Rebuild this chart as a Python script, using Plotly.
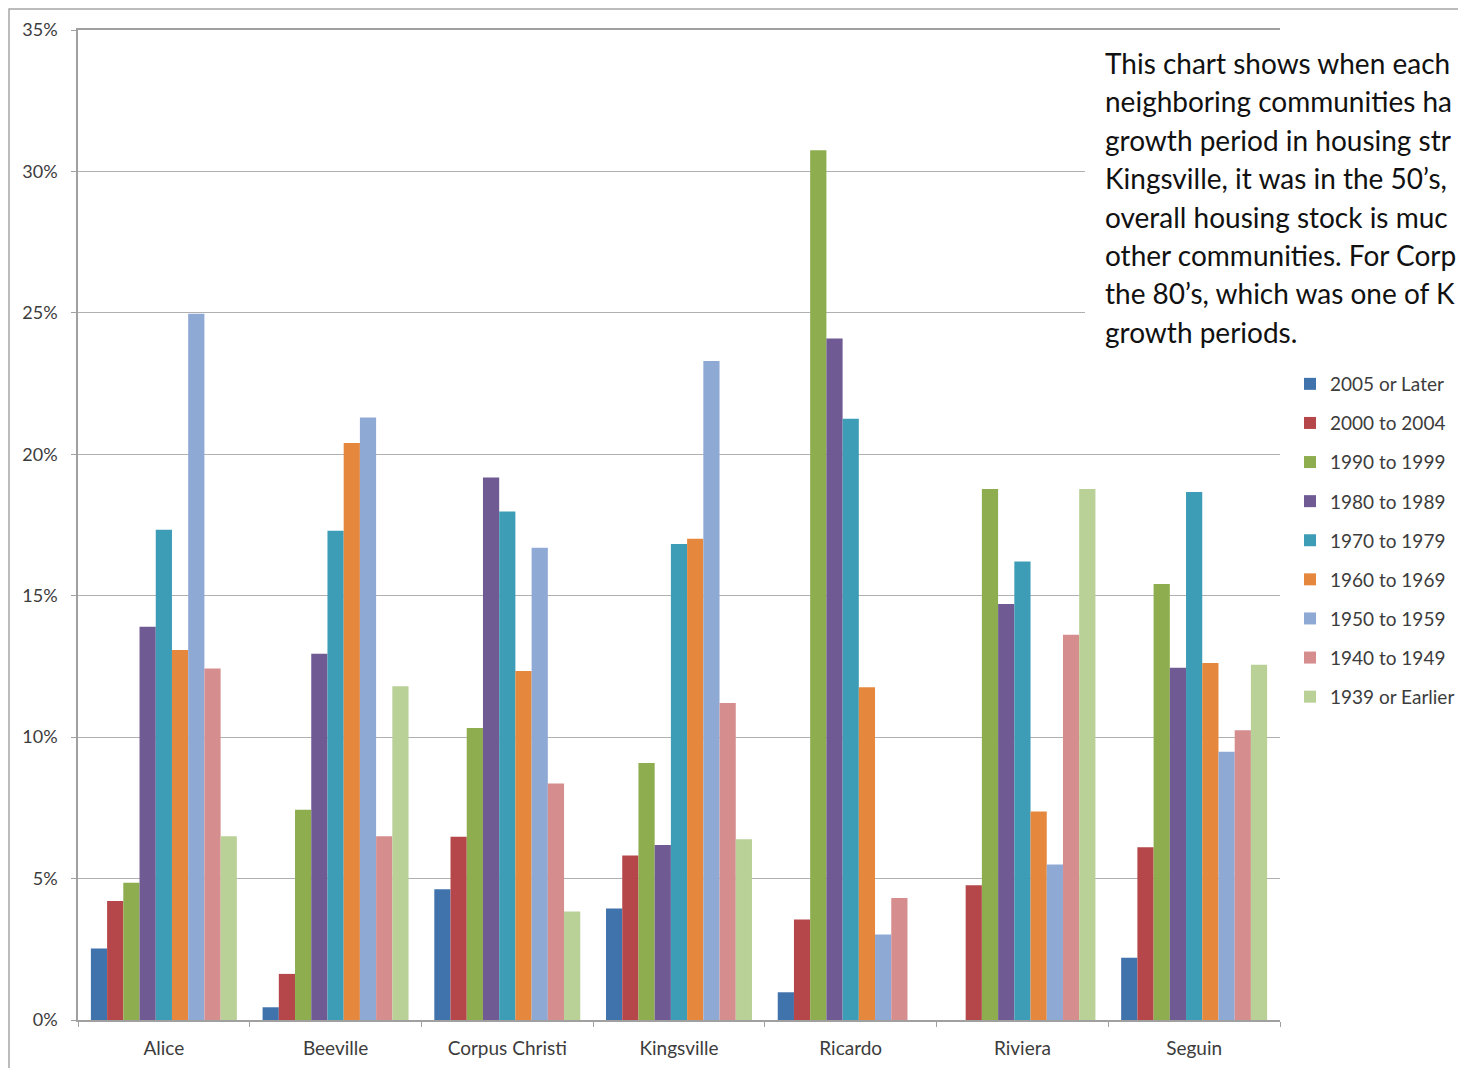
import plotly.graph_objects as go

categories = ["Alice", "Beeville", "Corpus Christi", "Kingsville", "Ricardo", "Riviera", "Seguin"]
series_names = ["2005 or Later", "2000 to 2004", "1990 to 1999", "1980 to 1989", "1970 to 1979",
                "1960 to 1969", "1950 to 1959", "1940 to 1949", "1939 or Earlier"]

v2005_later = [2.53, 0.45, 4.62, 3.94, 0.98, 0.0, 2.2]
v2000_2004 = [4.21, 1.63, 6.48, 5.82, 3.55, 4.76, 6.11]
v1990_1999 = [4.85, 7.43, 10.32, 9.09, 30.75, 18.77, 15.41]
v1980_1989 = [13.9, 12.95, 19.18, 6.19, 24.09, 14.71, 12.45]
v1970_1979 = [17.33, 17.3, 17.98, 16.83, 21.26, 16.21, 18.67]
v1960_1969 = [13.08, 20.4, 12.34, 17.01, 11.76, 7.37, 12.62]
v1950_1959 = [24.97, 21.3, 16.7, 23.3, 3.02, 5.5, 9.48]
v1940_1949 = [12.43, 6.5, 8.36, 11.21, 4.31, 13.62, 10.24]
v1939_earlier = [6.5, 11.8, 3.84, 6.39, 0.0, 18.77, 12.56]

series_values = [v2005_later, v2000_2004, v1990_1999, v1980_1989, v1970_1979,
                 v1960_1969, v1950_1959, v1940_1949, v1939_earlier]

colors = ["#4072AC", "#B5474A", "#8DAD4E", "#6F5A93", "#3E9DB6",
          "#E5873D", "#8FA9D5", "#D68D8E", "#B9D097"]

note_lines = [
    "This chart shows when each",
    "neighboring communities ha",
    "growth period in housing str",
    "Kingsville, it was in the 50\u2019s,",
    "overall housing stock is muc",
    "other communities. For Corp",
    "the 80\u2019s, which was one of K",
    "growth periods.",
]

OFF = 8  # page body margin of the html page
W, H = 1466 - OFF, 1068 - OFF
# plot area bounds in screen pixels
SL, SR, ST, SB = 78, 1280, 30, 1020
L, R, T, B = SL - OFF, SR - OFF, ST - OFF, SB - OFF

def px_x(sx):
    return (sx - SL) / (SR - SL)

def px_y(sy):
    return (SB - sy) / (SB - ST)

FONT = "Lato, Carlito, Calibri, sans-serif"
TXT = "#3C3C3C"

fig = go.Figure()
for name, vals, col in zip(series_names, series_values, colors):
    fig.add_trace(go.Bar(
        x=categories, y=vals, name=name, marker_color=col,
        marker_line_width=0, legendgroup=name,
    ))

annotations = []
for i, line in enumerate(note_lines):
    annotations.append(dict(
        x=px_x(1103), y=px_y(63 + i * 38.4), xref="paper", yref="paper",
        xanchor="left", yanchor="middle", text=line, showarrow=False,
        font=dict(family=FONT, size=28, color="#111111"), align="left",
    ))

shapes = [
    # white text box covering the gridlines
    dict(type="rect", xref="paper", yref="paper",
         x0=px_x(1085), x1=px_x(1300), y0=px_y(350), y1=px_y(40),
         fillcolor="white", line_width=0, layer="above"),
    # outer chart frame
    dict(type="rect", xref="paper", yref="paper",
         x0=px_x(9), x1=px_x(1490), y0=px_y(1090), y1=px_y(9),
         fillcolor="rgba(0,0,0,0)", line=dict(color="#A6A6A6", width=1.5), layer="below"),
]

fig.update_layout(
    width=W, height=H,
    margin=dict(l=L, r=W - R, t=T, b=H - B, autoexpand=False),
    paper_bgcolor="white", plot_bgcolor="white",
    barmode="group", bargap=0.15, bargroupgap=0,
    font=dict(family=FONT, color=TXT),
    showlegend=True,
    legend=dict(x=px_x(1290), y=px_y(365), xanchor="left", yanchor="top",
                font=dict(family=FONT, size=19, color=TXT),
                tracegroupgap=11.4, itemwidth=30, bgcolor="rgba(0,0,0,0)"),
    annotations=annotations,
    shapes=shapes,
)
fig.update_yaxes(range=[0, 35], dtick=5, ticksuffix="%", showgrid=True,
                 gridcolor="#B0B0B0", gridwidth=1.3, showline=True,
                 linecolor="#A0A0A0", linewidth=1.5, ticks="outside", ticklen=5,
                 tickcolor="#A0A0A0", tickfont=dict(family=FONT, size=18, color=TXT),
                 ticklabelstandoff=10, zeroline=False, automargin=False)
fig.update_xaxes(showline=True, mirror=True, linecolor="#A0A0A0", linewidth=1.5,
                 ticks="outside", tickson="boundaries", ticklen=5, tickcolor="#A0A0A0",
                 tickfont=dict(family=FONT, size=19, color=TXT),
                 ticklabelstandoff=10, automargin=False)

fig.write_html("out.html")
